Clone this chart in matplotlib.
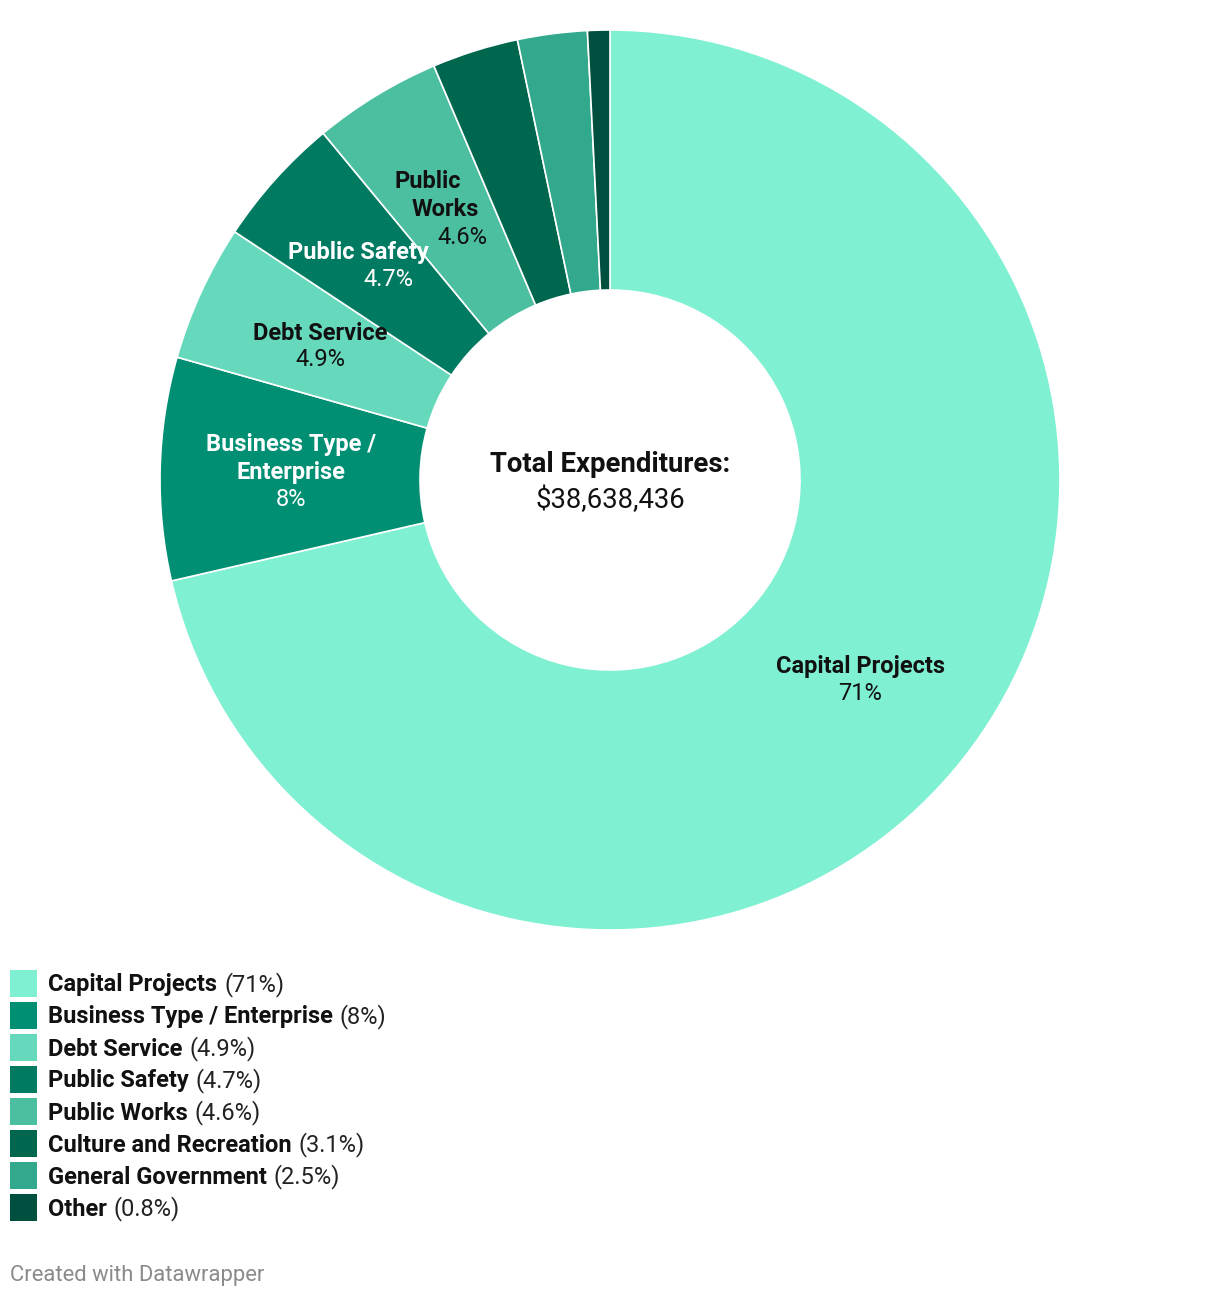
import matplotlib
matplotlib.use("Agg")
import matplotlib.pyplot as plt
from matplotlib.patches import Rectangle

categories = ["Capital Projects", "Business Type / Enterprise", "Debt Service", "Public Safety",
              "Public Works", "Culture and Recreation", "General Government", "Other"]
values = [71.4, 8.0, 4.9, 4.7, 4.6, 3.1, 2.5, 0.8]
pct_labels = ["71%", "8%", "4.9%", "4.7%", "4.6%", "3.1%", "2.5%", "0.8%"]
colors = ["#7ff0d2", "#008f73", "#66d8bb", "#007a61", "#4cbfa0", "#00674f", "#32a88c", "#005040"]
total_label = "$38,638,436"

W, H = 1220, 1298
plt.rcParams['font.family'] = ['Roboto', 'DejaVu Sans']
fig = plt.figure(figsize=(W / 100, H / 100), dpi=100)
ax = fig.add_axes([0, 0, 1, 1])

def Y(py):
    return H - py

cx, cy, R, r = 610, 480, 450, 190
ax.pie(values, colors=colors, startangle=90, counterclock=False, radius=R,
       center=(cx, Y(cy)), wedgeprops=dict(width=R - r, edgecolor='white', linewidth=1.2),
       frame=True)
ax.set_xlim(0, W)
ax.set_ylim(0, H)
ax.set_aspect('equal')
ax.axis('off')

fs = 17
dy = 2
# in-chart labels: (index, [(text, x, y, bold)], color)
lab = [
    (0, [("Capital Projects", 860, 665, True), ("71%", 860, 692, False)], "#111111"),
    (1, [("Business Type /", 291, 443, True), ("Enterprise", 291, 471, True), ("8%", 291, 498, False)], "white"),
    (2, [("Debt Service", 320, 331, True), ("4.9%", 320, 358, False)], "#111111"),
    (3, [("Public Safety", 358, 250, True), ("4.7%", 388, 278, False)], "white"),
    (4, [("Public", 428, 179, True), ("Works", 445, 207, True), ("4.6%", 462, 235, False)], "#111111"),
]
for i, lines, col in lab:
    for txt, x, y, b in lines:
        ax.text(x, Y(y + dy), txt, ha='center', va='center', fontsize=fs,
                fontweight='bold' if b else 'normal', color=col)

ax.text(cx, Y(463 + dy), "Total Expenditures:", ha='center', va='center', fontsize=19.8,
        fontweight='bold', color='#111111')
ax.text(cx, Y(498 + dy), total_label, ha='center', va='center', fontsize=19.8, color='#111111')

# legend
fig.canvas.draw()
renderer = fig.canvas.get_renderer()
for i, (c, p, col) in enumerate(zip(categories, pct_labels, colors)):
    ytop = 970 + i * 32
    ax.add_patch(Rectangle((10, Y(ytop + 27)), 27, 27, facecolor=col, edgecolor='none'))
    t = ax.text(48, Y(ytop + 15), c, ha='left', va='center', fontsize=fs,
                fontweight='bold', color='#111111')
    bb = t.get_window_extent(renderer=renderer)
    ax.text(bb.x1 + 7, Y(ytop + 15), "(" + p + ")", ha='left', va='center',
            fontsize=fs, color='#222222')

ax.text(10, Y(1275), "Created with Datawrapper", ha='left', va='center', fontsize=15.8,
        color='#8a8a8a')

fig.savefig("out.png", dpi=100, facecolor='white')
